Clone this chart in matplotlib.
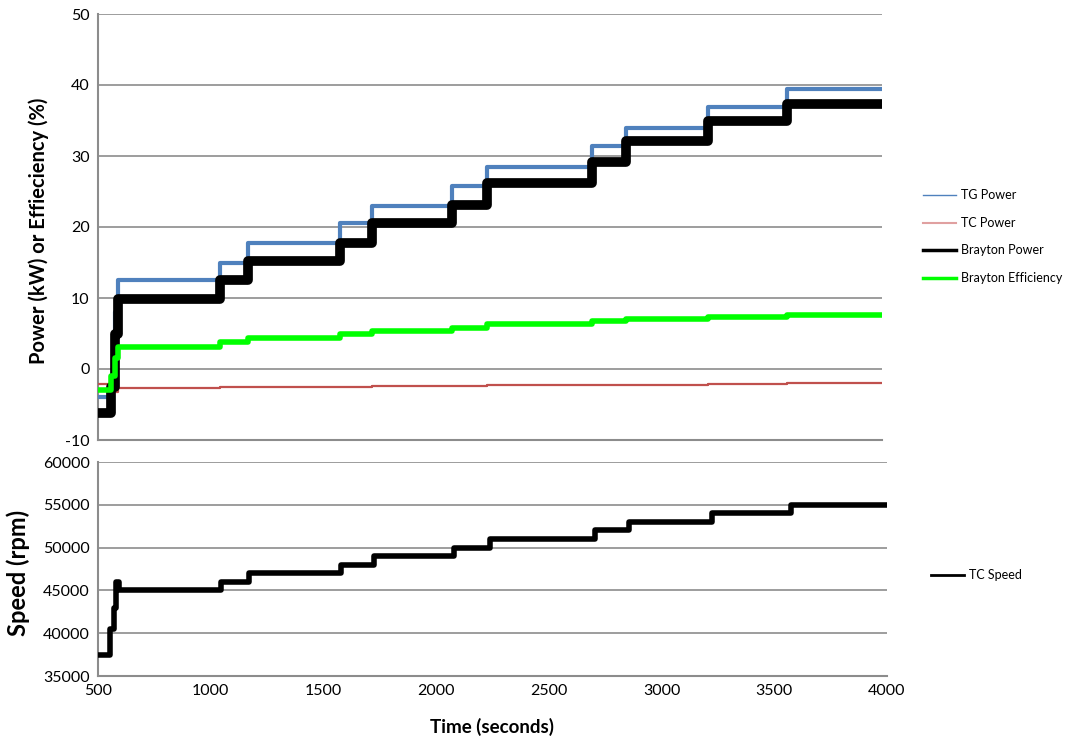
import matplotlib
matplotlib.use('Agg')
import matplotlib.pyplot as plt
import numpy as np

plt.rcParams['font.family'] = ['Lato', 'DejaVu Sans']
plt.rcParams['axes.unicode_minus'] = False

# Step times (s) at which each operating point begins
step_time = [500, 560, 576, 588, 1045, 1170, 1580, 1723, 2080, 2237, 2705, 2857, 3223, 3576, 4000]

# Levels held after each step time (last value repeats to the end)
tg_power = [-4.0, -2.5, 8.0, 12.5, 15.0, 17.8, 20.5, 23.0, 25.8, 28.5, 31.4, 34.0, 36.9, 39.4, 39.4]
tc_power = [-2.1, -2.2, -3.2, -2.7, -2.6, -2.5, -2.5, -2.4, -2.4, -2.3, -2.3, -2.2, -2.1, -2.0, -2.0]
brayton_power = [-6.2, -2.5, 5.0, 9.8, 12.6, 15.2, 17.8, 20.5, 23.1, 26.2, 29.2, 32.1, 34.9, 37.3, 37.3]
brayton_eff = [-3.0, -1.0, 1.5, 3.1, 3.8, 4.4, 4.9, 5.4, 5.8, 6.3, 6.7, 7.0, 7.3, 7.6, 7.6]

speed_time = [500, 555, 572, 580, 592, 1045, 1170, 1580, 1723, 2080, 2237, 2705, 2857, 3223, 3576, 4000]
tc_speed = [37500, 40500, 43000, 46000, 45000, 46000, 47000, 48000, 49000, 50000, 51000, 52000, 53000, 54000, 55000, 55000]

grid_c = '#8c8c8c'
W, H = 1076, 740

fig = plt.figure(figsize=(W / 100, H / 100), dpi=100)
ax1 = fig.add_axes([98 / W, 1 - 440 / H, (882 - 98) / W, (440 - 14) / H])
ax2 = fig.add_axes([98 / W, 1 - 676 / H, (887 - 98) / W, (676 - 462) / H])

ax1.plot(step_time, tg_power, drawstyle='steps-post', color='#4f81bd', lw=3.0, label='TG Power', zorder=3)
ax1.plot(step_time, tc_power, drawstyle='steps-post', color='#c0504d', lw=1.6, label='TC Power', zorder=3)
ax1.plot(step_time, brayton_power, drawstyle='steps-post', color='black', lw=7, label='Brayton Power', zorder=4)
ax1.plot(step_time, brayton_eff, drawstyle='steps-post', color='#00ff00', lw=4, label='Brayton Efficiency', zorder=5)

ax2.plot(speed_time, tc_speed, drawstyle='steps-post', color='black', lw=4, label='TC Speed', zorder=3)

ax1.set_ylim(-10, 50)
ax1.set_yticks(np.arange(-10, 51, 10))
ax2.set_ylim(35000, 60000)
ax2.set_yticks(np.arange(35000, 60001, 5000))
for ax in (ax1, ax2):
    ax.set_xlim(500, 4000)
    ax.grid(axis='y', color=grid_c, lw=1.2)
    ax.set_axisbelow(True)
    for s in ('top', 'right'):
        ax.spines[s].set_visible(False)
    for s in ('left', 'bottom'):
        ax.spines[s].set_color(grid_c)
        ax.spines[s].set_linewidth(1.5)
    ax.tick_params(length=0, labelsize=11.5, pad=6)

ax1.set_xticks([])
ax2.set_xticks(np.arange(500, 4001, 500))
ax2.tick_params(axis='x', pad=6)

ax1.set_ylabel('Power (kW) or Effieciency (%)', fontsize=14.5, fontweight='bold')
ax1.yaxis.set_label_coords(-49 / (882 - 98), 0.49)
ax2.set_ylabel('Speed (rpm)', fontsize=17, fontweight='bold')
ax2.yaxis.set_label_coords(-68 / (887 - 98), 0.48)
ax2.set_xlabel('Time (seconds)', fontsize=13.5, fontweight='bold', labelpad=14)

leg1 = fig.legend(handles=ax1.get_lines(), loc='upper left',
                  bbox_to_anchor=(912 / W, 1 - 178 / H), frameon=False,
                  fontsize=9, labelspacing=1.25, handlelength=2.6, handletextpad=0.4)
for h, lw in zip(leg1.get_lines(), [1.0, 1.5, 2.5, 2.5]):
    h.set_linewidth(lw)
leg1.get_lines()[1].set_color('#e0a0a0')

leg2 = fig.legend(handles=ax2.get_lines(), loc='upper left',
                  bbox_to_anchor=(920 / W, 1 - 558 / H), frameon=False,
                  fontsize=9, handlelength=2.6, handletextpad=0.4)
leg2.get_lines()[0].set_linewidth(2.0)

fig.savefig('out.png', dpi=100)
